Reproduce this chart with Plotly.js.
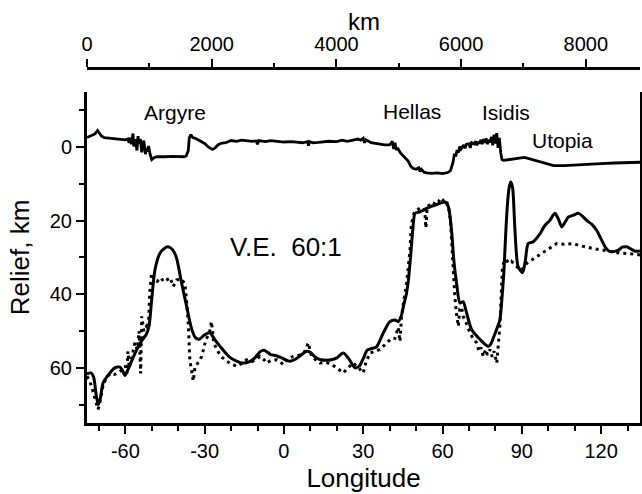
<!DOCTYPE html>
<html>
<head>
<meta charset="utf-8">
<script src="https://cdn.plot.ly/plotly-3.0.1.min.js"></script>
<style>html,body{margin:0;padding:0;background:#fff;}#plot{width:642px;height:494px;}</style>
</head>
<body>
<div id="plot"></div>
<script>
// Topography profile (top line)
const topoLon = [-74.5,-73,-71.5,-70.5,-70,-69,-68,-66,-64,-62,-60,-59,-58.6,-58.1,-57.7,-57.1,-56.8,-56.2,-55.6,-55.2,-54.9,-54.3,-53.8,-53.3,-53,-52.4,-52,-51.6,-51.2,-50.6,-50,-49,-48,-45,-42,-38,-37,-36.2,-35.8,-35.2,-34.5,-33.5,-32,-30,-28.5,-27,-26,-25,-24,-22,-20,-18,-16,-14,-12,-10.5,-10,-9.5,-7,-5,-3,0,3,5,7,9,9.3,9.6,11,13,15,17,20,22,24,26,28,29,30,30.5,31,33,35,38,40,41,41.5,42,42.5,43,44,45,46,47,48,49,50,51,51.5,52,53,54,56,58,60,62,63,64,64.5,65,65.5,66,66.5,67,68,68.5,69,70,70.5,71,72,72.5,73,73.5,74,74.5,75,75.5,76,76.5,77,77.5,78,78.5,79,79.5,80,80.5,81,81.5,82,82.5,83,85,87,89,91,93,96,99,102,106,110,115,120,125,130,134.7];
const topoVal = [-2.6,-3.0,-3.6,-4.5,-4.0,-3.0,-2.6,-2.5,-2.3,-2.2,-2.0,-2.2,-1.2,-2.6,-0.8,-3.7,-0.2,-2.2,0.9,-3.0,-1.0,-2.2,1.4,-0.6,-1.8,1.9,0.2,1.2,-0.3,2.0,3.4,2.8,2.6,2.6,2.5,2.6,2.4,1.0,-2.5,-3.4,-2.6,-2.4,-1.8,-1.0,0.0,0.6,0.2,-0.6,-1.0,-1.2,-1.8,-1.6,-1.9,-1.7,-1.6,-1.7,-0.8,-1.8,-1.5,-1.8,-1.6,-1.4,-1.5,-1.3,-1.2,-1.5,-0.4,-1.5,-1.2,-1.3,-1.4,-1.6,-1.5,-1.9,-1.6,-1.8,-2.2,-1.9,-2.4,-1.2,-2.0,-1.2,-0.9,-0.6,-0.6,-1.6,0.5,-1.2,0.8,0.2,1.5,2.2,3.0,3.8,5.2,5.8,6.0,5.6,6.6,6.0,6.8,7.0,7.1,7.0,7.2,6.9,6.4,4.0,1.8,2.5,0.8,1.5,-0.2,0.5,-0.6,0.3,-0.8,-0.9,0.2,-1.2,-0.9,-1.6,-0.5,-1.5,-1.0,-2.0,-0.8,-2.2,-1.2,-2.4,-0.8,-2.0,-1.3,-2.8,-0.5,-3.4,-1.0,-3.8,0.2,-2.5,1.5,3.4,3.6,3.4,3.3,3.1,2.8,3.2,3.8,4.5,5.0,5.0,4.9,4.7,4.5,4.3,4.2,4.1];

// Solid profile
const solidLon = [-74.5,-73,-72,-71,-70.2,-69.5,-68.4,-66.5,-64,-62,-61,-60.2,-59,-58,-56,-54,-52,-51,-50.1,-48.8,-47,-45,-43.8,-42,-40.6,-38.7,-36.8,-35,-33.5,-32,-30,-28,-26,-24,-21,-19,-15.5,-13,-11,-9,-7.5,-5,-2.8,0,2.3,4.5,6.5,8.5,10,12,14,18,20,22.4,24.5,26.9,28.5,30,31.5,33,35,37.6,40,42,43.3,44.5,45.2,46.3,47.1,48,48.8,49.6,51.5,53,55.3,57,59,60.9,62.2,63.4,64.3,65.3,66.6,67.8,69.1,71,74.2,77.3,78.3,79.2,81,81.7,82.5,83.2,83.8,84.5,85.2,85.8,86.5,87.4,88.6,90.3,91.3,92.4,94.3,96.9,98.5,100.6,102.5,103.8,105.1,106.5,107.6,109.5,111.4,113,114.5,116.5,118.3,120,121.5,123,124.6,126.5,128,129.7,131.5,133,134.7];
const solidVal = [61.6,61.4,62.5,67.5,70.0,68.5,64.1,62.0,60.0,59.8,60.8,62.1,60.5,58.8,55.5,52.8,50.8,48.5,42,33.4,29,27.4,27.1,28,30.2,37,43.3,49.2,51.8,52.2,51.0,50.5,52.5,54.3,56.8,57.8,58.7,58.3,57.3,55.6,55.2,56.4,56.7,57.6,58.2,57.6,56.5,55.5,55.8,57.2,57.8,57.8,57.3,56.0,57.5,60.0,59.5,57.5,55.2,54.8,54.3,50.5,47.5,47,47.4,45.6,43.3,40,36.1,29,22,18.0,17.6,17,16.2,15.8,15.3,14.9,16.2,22.6,31,37,42.4,42,45.1,49.6,52.3,54.2,53.5,51.9,48.5,47,41,34,25,16,11,9.5,11,22.6,32.5,34.1,31,26.2,25.7,23.5,21.5,19.9,18.0,19.5,21.7,20.2,19,18.5,18.0,18.8,19.9,21,22.6,25,27.1,28.3,28.4,28,27.2,27.1,27.8,28.3,28.2];

// Dotted profile
const dotLon = [-74.5,-73.5,-72.8,-71.5,-70.3,-69.5,-68.4,-67,-65.5,-64,-62.5,-61,-60,-59.4,-59,-58.5,-57.5,-56.4,-55.5,-54.8,-54.2,-53.8,-53,-52,-51.3,-50.8,-50.1,-49,-48,-46.5,-45.5,-44.4,-43,-41.9,-40.6,-39,-37.5,-36.8,-36.2,-35.6,-34.8,-34.3,-33.7,-32.5,-31.1,-29.5,-28.2,-27.4,-26.6,-25,-23.7,-21,-17.9,-16,-14.1,-12,-10.5,-9.1,-7.5,-6.6,-5,-2.8,-1.5,-0.3,1.5,3.5,6,8,9.2,10.5,12,13.6,16,18,20,22.4,24,26.2,28,30,31,32.5,34.5,36.3,38.5,40.8,42,43.2,43.9,44.5,45.5,46.4,47.7,48.2,49.3,50.5,51.5,52.5,53.3,53.7,54.2,55.5,56.5,57.5,58.5,59.3,60.3,61.3,62.3,63,63.6,64,64.6,65.2,66,66.5,67.2,67.8,68.8,69.5,70.4,71.5,72.9,73.8,74.6,75.4,76.3,77,78,78.8,79.5,80.5,81.2,81.7,82.2,82.7,83.3,84,85,86,87.5,89.3,90.5,91.8,93.5,95.5,98,100.5,103.2,106,109.5,112,115,118,120.8,124,127,130,134.7];
const dotVal = [62.3,63.5,65,68,71.3,69,64.7,62.5,61.5,61.8,61.2,60.5,59.5,61.5,55.5,60.0,57,53.2,55,50,61.5,46.0,50,48.7,49.5,40,34.3,36,36.5,35.5,36.6,36.1,35.5,37.9,36.1,35.8,37,42,47.8,57.8,62,63.6,60,58.5,56.9,52.3,50.5,47.4,53.2,55.5,57,58.5,59.6,58.8,57.8,58.3,57.5,56.9,57.8,58.7,58,57.8,58.3,59.1,57.5,56.9,56.5,55.5,53.2,56.9,57.8,58.7,58.5,59.1,60,61.4,60.2,58.7,59.8,61.4,58.5,56,55.5,55,53.5,51.9,52,49,52.8,46,41,37,28,21,17.8,17.2,16.5,16.5,17.5,22,16.2,15.5,15.8,14.5,14.8,13.8,14.5,14.2,16.5,20,26,32.5,40,45,48.7,44,43.5,46,47.5,49,50.5,52,53.2,55.5,54.5,56.9,55,56.5,55,57,55.5,58.7,53,48.7,40,32.5,31,30.5,31.5,31,32,33.4,33,31.6,30.8,29.8,28.6,27.5,26.2,26.4,26.2,26.8,27.3,27.7,28,28.5,28.8,28.9,29.3];

// Axis ticks and labels
const lonTicks = [-60,-30,0,30,60,90,120];
const reliefTicks = [0,20,40,60];
const kmTicks = [0,2000,4000,6000,8000];
const regionNames = ['Argyre','Hellas','Isidis','Utopia'];
const regionLon = [-41.2,48.4,84,105.2];
const regionY = [-9.4,-9.6,-9.4,-1.8];

const FONT = 'Liberation Sans, Arial, Helvetica, sans-serif';

const traces = [
  {x: topoLon, y: topoVal, type:'scatter', mode:'lines', line:{color:'#000', width:2.8}, hoverinfo:'skip'},
  {x: dotLon, y: dotVal, type:'scatter', mode:'lines', line:{color:'#000', width:3, dash:'3px,4px'}, hoverinfo:'skip'},
  {x: solidLon, y: solidVal, type:'scatter', mode:'lines', line:{color:'#000', width:3, shape:'spline', smoothing:0.7}, hoverinfo:'skip'},
  {x: [0, 8000], y: [null, null], xaxis:'x2', yaxis:'y', type:'scatter', mode:'lines', showlegend:false, hoverinfo:'skip'}
];

const annotations = regionNames.map((t,i)=>({
  x: regionLon[i], y: regionY[i], xref:'x', yref:'y', text:t, showarrow:false,
  font:{family:FONT, size:21, color:'#000'}
}));
annotations.push({x:0.8, y:27.2, xref:'x', yref:'y', text:'V.E.\u00A0 60:1', showarrow:false,
  font:{family:FONT, size:26, color:'#000'}});
annotations.push({x:0.5, y:1.1296, xref:'paper', yref:'paper', text:'km', showarrow:false,
  yanchor:'middle', font:{family:FONT, size:24, color:'#000'}});

const layout = {
  width:642, height:494,
  margin:{l:87, r:2, t:68, b:71, pad:0},
  paper_bgcolor:'#fff', plot_bgcolor:'#fff',
  showlegend:false,
  font:{family:FONT, color:'#000', size:20},
  xaxis:{
    range:[-74.5,134.7], tickvals:lonTicks, ticktext:lonTicks.map(String),
    ticks:'outside', ticklen:8, tickwidth:2, tickcolor:'#000',
    minor:{dtick:10, tick0:0, ticks:'outside', ticklen:5, tickwidth:2, tickcolor:'#000'},
    showline:true, linewidth:3, linecolor:'#000', mirror:false,
    showgrid:false, zeroline:false,
    tickfont:{family:FONT, size:20, color:'#000'},
    title:{text:'Longitude', font:{family:FONT, size:26, color:'#000'}, standoff:8}
  },
  yaxis:{
    range:[75,-15], domain:[0,0.9324], tickvals:reliefTicks, ticktext:reliefTicks.map(String),
    ticks:'outside', ticklen:8, tickwidth:2, tickcolor:'#000',
    minor:{dtick:10, tick0:0, ticks:'outside', ticklen:5, tickwidth:2, tickcolor:'#000'},
    showline:true, linewidth:3, linecolor:'#000', mirror:true,
    showgrid:false, zeroline:false,
    tickfont:{family:FONT, size:20, color:'#000'},
    title:{text:'Relief, km', font:{family:FONT, size:26, color:'#000'}, standoff:13}
  },
  xaxis2:{
    overlaying:'x', side:'top', anchor:'free', position:1,
    range:[0,8870], tickvals:kmTicks, ticktext:kmTicks.map(String),
    ticks:'outside', ticklen:8, tickwidth:2, tickcolor:'#000',
    minor:{dtick:1000, tick0:0, ticks:'outside', ticklen:4, tickwidth:2, tickcolor:'#000'},
    showline:true, linewidth:3, linecolor:'#000',
    showgrid:false, zeroline:false,
    tickfont:{family:FONT, size:20, color:'#000'}
  },
  annotations: annotations
};

Plotly.newPlot('plot', traces, layout, {displayModeBar:false, staticPlot:true});
</script>
</body>
</html>
